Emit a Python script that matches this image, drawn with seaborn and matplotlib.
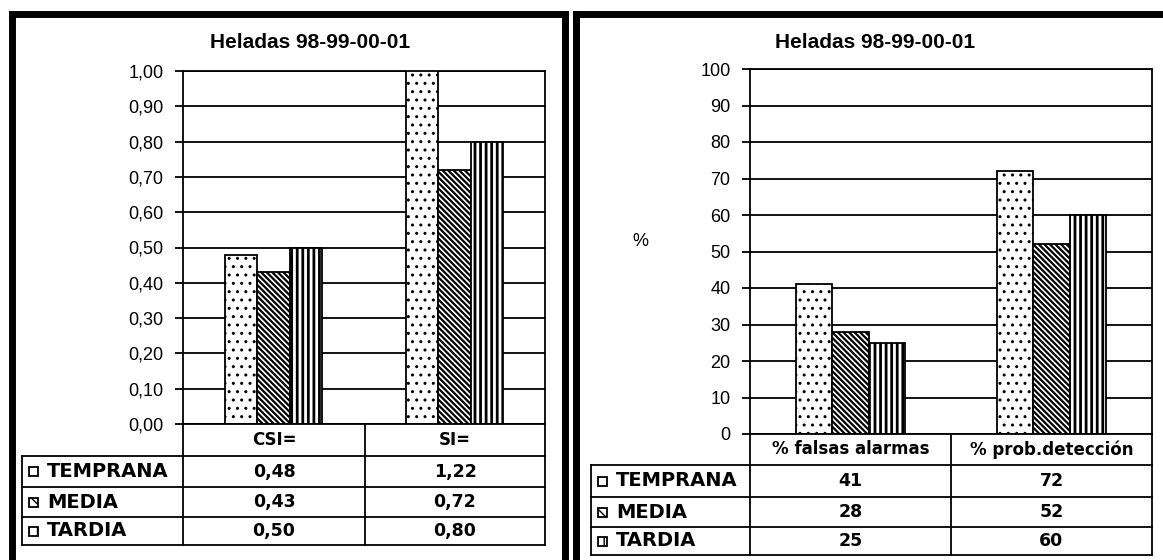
import numpy as np
import pandas as pd
import seaborn as sns
import matplotlib.pyplot as plt
from matplotlib.patches import Rectangle
from matplotlib.lines import Line2D

# Data
series = ['TEMPRANA', 'MEDIA', 'TARDIA']
hatches = ['..', '\\\\\\\\\\\\', '|||']

left_cats = ['CSI=', 'SI=']
csi_vals = [0.48, 0.43, 0.50]
si_vals = [1.22, 0.72, 0.80]
left_ticks = [0.0, 0.1, 0.2, 0.3, 0.4, 0.5, 0.6, 0.7, 0.8, 0.9, 1.0]

right_cats = ['% falsas alarmas', '% prob.detección']
falsas_vals = [41, 28, 25]
deteccion_vals = [72, 52, 60]
right_ticks = [0, 10, 20, 30, 40, 50, 60, 70, 80, 90, 100]

title = 'Heladas 98-99-00-01'

sns.set_style('white')
plt.rcParams['font.family'] = ['Liberation Sans Narrow', 'Liberation Sans', 'DejaVu Sans']
plt.rcParams['text.color'] = 'black'
plt.rcParams['ytick.color'] = 'black'
plt.rcParams['ytick.labelcolor'] = 'black'

W, H = 1163, 560
fig = plt.figure(figsize=(W / 100, H / 100), dpi=100)


def fx(x):
    return x / W


def fy(y):
    return 1 - y / H


def hline(x0, x1, y, lw=1.3):
    fig.add_artist(Line2D([fx(x0), fx(x1)], [fy(y), fy(y)], color='black', lw=lw,
                          solid_capstyle='projecting'))


def vline(x, y0, y1, lw=1.3):
    fig.add_artist(Line2D([fx(x), fx(x)], [fy(y0), fy(y1)], color='black', lw=lw,
                          solid_capstyle='projecting'))


def panel(cats, vals, ticks, ticklabels, box, table_box, rows_y, title_xy, cell_fmt):
    x0, y0, x1, y1 = box
    ax = fig.add_axes([fx(x0), fy(y1), (x1 - x0) / W, (y1 - y0) / H])
    df = pd.DataFrame({
        'cat': [c for c in cats for _ in series],
        'serie': series * len(cats),
        'val': [v for vs in vals for v in vs],
    })
    sns.barplot(data=df, x='cat', y='val', hue='serie', order=cats, hue_order=series,
                palette={s: 'white' for s in series}, saturation=1, edgecolor='black',
                linewidth=1.3, width=0.54, legend=False, ax=ax)
    for cont, h in zip(ax.containers, hatches):
        for p in cont:
            p.set_hatch(h)
            if hasattr(p, 'set_hatch_linewidth'):
                lw = {'.': 1.0, '\\': 1.6, '|': 2.0}[h[0]]
                p.set_hatch_linewidth(lw)
    ax.set_ylim(ticks[0], ticks[-1])
    ax.set_yticks(ticks)
    ax.set_yticklabels(ticklabels)
    ax.yaxis.grid(True, color='black', lw=1.3)
    ax.set_axisbelow(True)
    for s in ax.spines.values():
        s.set_visible(True)
        s.set_color('black')
        s.set_linewidth(1.3)
    ax.tick_params(axis='y', left=True, length=6, width=1.3, pad=8, labelsize=13,
                   colors='black')
    ax.tick_params(axis='x', bottom=False, labelbottom=False)
    ax.set_xlabel('')
    ax.set_ylabel('')
    ax.set_facecolor('white')

    # data table under the plot
    tl, tm = table_box
    r0, r1, r2, r3, r4 = rows_y
    vline(x0, y1, r4)
    vline(tm, y1, r4)
    vline(x1, y1, r4)
    vline(tl, r1, r4)
    for r in (r1, r2, r3, r4):
        hline(tl, x1, r)
    col_x = [(x0 + tm) / 2, (tm + x1) / 2]
    for cx, c in zip(col_x, cats):
        fig.text(fx(cx), fy((r0 + r1) / 2), c, ha='center', va='center', color='black',
                 fontsize=12, fontweight='bold', family='DejaVu Sans')
    row_y = [(r1 + r2) / 2, (r2 + r3) / 2, (r3 + r4) / 2]
    key_hatch = ['', '\\\\\\', '||']
    for i, (ry, s, h) in enumerate(zip(row_y, series, key_hatch)):
        key = Rectangle((fx(tl + 7), fy(ry + 4.5)), 9 / W, 9 / H, transform=fig.transFigure,
                        facecolor='white', edgecolor='black', lw=1.3, hatch=h)
        fig.add_artist(key)
        fig.text(fx(tl + 25), fy(ry), s, ha='left', va='center', color='black',
                 fontsize=14, fontweight='bold', family='DejaVu Sans')
        for cx, vs in zip(col_x, vals):
            fig.text(fx(cx), fy(ry), cell_fmt(vs[i]), ha='center', va='center',
                     color='black', fontsize=12.5, fontweight='bold', family='DejaVu Sans')

    fig.text(fx(title_xy[0]), fy(title_xy[1]), title, ha='center', va='center',
             color='black', fontsize=15, fontweight='bold')
    return ax


left_labels = [f'{t:.2f}'.replace('.', ',') for t in left_ticks]
panel(left_cats, [csi_vals, si_vals], left_ticks, left_labels,
      (183, 71, 545, 424), (22, 365), (424, 456, 487, 517, 545), (310, 43),
      lambda v: f'{v:.2f}'.replace('.', ','))

right_labels = [str(t) for t in right_ticks]
panel(right_cats, [falsas_vals, deteccion_vals], right_ticks, right_labels,
      (750, 69, 1152, 434), (591, 951), (434, 465, 497, 527, 555), (875, 43),
      lambda v: str(v))

fig.text(fx(640), fy(241), '%', ha='center', va='center', color='black', fontsize=13)

# thick panel frames (cropped at the bottom / right like the original)
for x in (11.5, 565, 576):
    vline(x, 13.5, H + 10, lw=5)
hline(11.5, 565, 13.5, lw=5)
hline(576, W + 10, 13.5, lw=5)

fig.savefig('out.png', dpi=100, facecolor='white')
